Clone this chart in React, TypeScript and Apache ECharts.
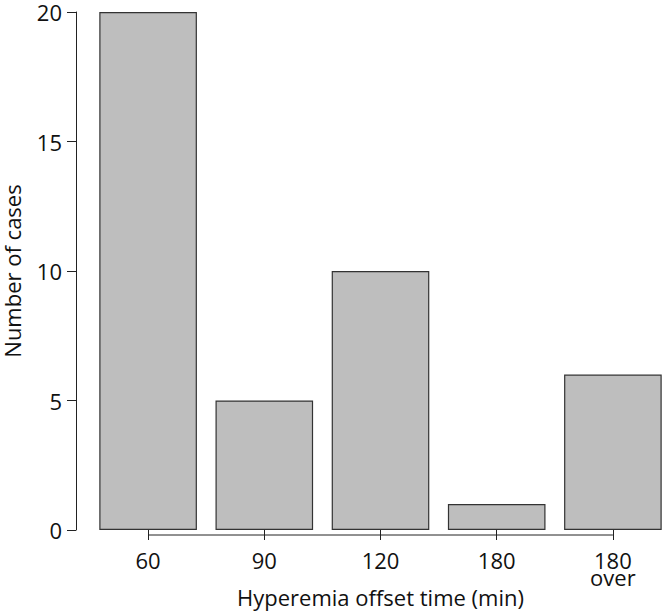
import React, { useEffect, useRef } from "react";
import * as echarts from "echarts";

const categories = ["60", "90", "120", "180", "180\nover"];
const counts = [20, 5, 10, 1, 6];
const yTicks = [0, 5, 10, 15, 20];

export default function App() {
  const ref = useRef<HTMLDivElement>(null);
  useEffect(() => {
    const chart = echarts.init(ref.current!, undefined, { renderer: "svg" });
    const font = "'Open Sans', sans-serif";
    chart.setOption({
      animation: false,
      backgroundColor: "#ffffff",
      grid: {
        left: 90,
        right: -9,
        top: 12,
        bottom: 82,
        containLabel: false,
        outerBoundsMode: "none",
      },
      xAxis: {
        type: "category",
        data: categories,
        offset: 5,
        axisLine: { show: false },
        axisTick: { show: true, alignWithLabel: true, length: 10, lineStyle: { color: "#222", width: 1 } },
        axisLabel: { color: "#111", fontSize: 22, fontFamily: font, margin: 16, lineHeight: 17, interval: 0 },
        name: "Hyperemia offset time (min)",
        nameLocation: "middle",
        nameGap: 51,
        nameMoveOverlap: false,
        nameTextStyle: { color: "#111", fontSize: 22, fontFamily: font },
      },
      yAxis: {
        type: "value",
        min: yTicks[0],
        max: yTicks[yTicks.length - 1],
        interval: 5,
        offset: 14,
        splitLine: { show: false },
        axisLine: { show: true, lineStyle: { color: "#222", width: 1 } },
        axisTick: { show: true, length: 9, lineStyle: { color: "#222", width: 1 } },
        axisLabel: { color: "#111", fontSize: 22, fontFamily: font, margin: 14 },
        name: "Number of cases",
        nameLocation: "middle",
        nameGap: 53,
        nameMoveOverlap: false,
        nameTextStyle: { color: "#111", fontSize: 22, fontFamily: font },
      },
      series: [
        {
          type: "bar",
          data: counts,
          barCategoryGap: "16%",
          itemStyle: { color: "#bebebe", borderColor: "#333", borderWidth: 1.2 },
        },
        {
          type: "custom",
          clip: false,
          silent: true,
          data: [[0, categories.length - 1]],
          renderItem: (params: any, api: any) => {
            const a = api.coord([0, 0]);
            const b = api.coord([categories.length - 1, 0]);
            return {
              type: "line",
              shape: { x1: a[0], y1: a[1] + 5, x2: b[0], y2: b[1] + 5 },
              style: { stroke: "#222", lineWidth: 1 },
            };
          },
        },
      ],
    });
    return () => chart.dispose();
  }, []);
  return (
    <div
      ref={ref}
      style={{ position: "fixed", left: 0, top: 0, width: 662, height: 612 }}
    />
  );
}
